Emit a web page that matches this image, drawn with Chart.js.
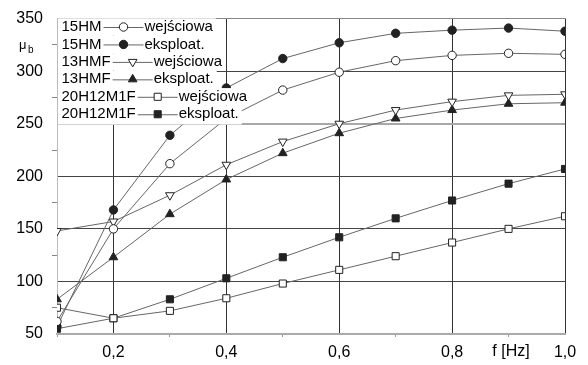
<!DOCTYPE html>
<html lang="pl">
<head>
<meta charset="UTF-8">
<title>μb = f(f)</title>
<script src="https://cdn.jsdelivr.net/npm/chart.js"></script>
<style>
    body { margin: 0; background: #fff; }
    #wrap { width: 588px; height: 365px; }
</style>
</head>
<body>
<div id="wrap"><canvas id="mub" width="588" height="365"></canvas></div>
<script>
// frequency f [Hz]
const freq = [0.1, 0.2, 0.3, 0.4, 0.5, 0.6, 0.7, 0.8, 0.9, 1.0];

// mu_b for each steel, initial state and after service
const hm15Wej  = [62, 150, 212, 255, 282, 299, 310, 315, 317, 316];
const hm15Eks  = [57, 168, 239, 284, 312, 327, 336, 339, 341, 338];
const hmf13Wej = [148, 157, 182, 211, 233, 250, 263, 271, 277, 278];
const hmf13Eks = [83, 123, 164, 197, 222, 241, 255, 263, 269, 270];
const h20Wej   = [75, 65, 72, 84, 98, 111, 124, 137, 150, 162];
const h20Eks   = [55, 65, 83, 103, 123, 142, 160, 177, 193, 207];

const steelNames = ['15HM', '15HM', '13HMF', '13HMF', '20H12M1F', '20H12M1F'];
const stateNames = ['wejściowa', 'eksploat.', 'wejściowa', 'eksploat.', 'wejściowa', 'eksploat.'];

const INK = '#222';
const LINE = '#666';
const FONT = '"Liberation Sans", Arial, sans-serif';

function series(vals, style, filled, rotation) {
    return {
        data: freq.map((f, i) => ({ x: f, y: vals[i] })),
        borderColor: LINE,
        borderWidth: 1,
        pointStyle: style,
        pointRotation: rotation || 0,
        pointRadius: style === 'circle' ? 4.2 : 5,
        pointBorderWidth: 1,
        pointBorderColor: INK,
        pointBackgroundColor: filled ? INK : '#fff',
        tension: 0
    };
}

const datasets = [
    series(hm15Wej, 'circle', false),
    series(hm15Eks, 'circle', true),
    series(hmf13Wej, 'triangle', false, 180),
    series(hmf13Eks, 'triangle', true),
    series(h20Wej, 'rect', false),
    series(h20Eks, 'rect', true)
];

// legend in the upper left corner, each row on a white strip over the grid and lines
const legendBox = {
    id: 'legendBox',
    afterDatasetsDraw(chart) {
        const ctx = chart.ctx;
        const left = chart.chartArea.left;
        const x0 = left + 4.5;
        const rowH = 17.45;
        const y0 = 27;
        ctx.save();
        ctx.font = '15px ' + FONT;
        ctx.textBaseline = 'middle';
        steelNames.forEach((name, i) => {
            const y = y0 + i * rowH;
            const nw = ctx.measureText(name).width;
            const lx = x0 + nw + 2;
            const tx = lx + 40;
            const sw = ctx.measureText(stateNames[i]).width;
            const extra = i === steelNames.length - 1 ? 1.5 : 0;
            ctx.fillStyle = '#fff';
            ctx.fillRect(left + 1, y - rowH / 2, tx + sw + 3 - left, rowH + extra);
            ctx.fillStyle = '#000';
            ctx.textAlign = 'left';
            ctx.fillText(name, x0, y);
            ctx.fillText(stateNames[i], tx + 1, y);
            ctx.strokeStyle = LINE;
            ctx.lineWidth = 1;
            ctx.beginPath();
            ctx.moveTo(lx, y + 0.5);
            ctx.lineTo(tx, y + 0.5);
            ctx.stroke();
            const ds = datasets[i];
            ctx.fillStyle = ds.pointBackgroundColor;
            ctx.strokeStyle = INK;
            Chart.helpers.drawPoint(ctx, {
                pointStyle: ds.pointStyle,
                radius: ds.pointRadius,
                rotation: ds.pointRotation,
                borderWidth: 1
            }, (lx + tx) / 2, y);
        });
        ctx.restore();
    },
    afterDraw(chart) {
        const ctx = chart.ctx;
        ctx.save();
        ctx.fillStyle = '#000';
        ctx.textBaseline = 'alphabetic';
        ctx.textAlign = 'left';
        ctx.font = '13px ' + FONT;
        ctx.fillText('μ', 19, 49);
        ctx.font = '10px ' + FONT;
        ctx.fillText('b', 28, 53);
        ctx.font = '16px ' + FONT;
        ctx.textAlign = 'center';
        ctx.textBaseline = 'middle';
        ctx.fillText('f [Hz]', 511, 352);
        ctx.restore();
    }
};

const tenths = v => Math.round(v * 10);

new Chart(document.getElementById('mub'), {
    type: 'line',
    data: { datasets },
    plugins: [legendBox],
    options: {
        responsive: false,
        animation: false,
        layout: { padding: { top: 15, right: 23, left: 0, bottom: 0 } },
        plugins: { legend: { display: false }, tooltip: { enabled: false } },
        scales: {
            x: {
                type: 'linear',
                min: 0.1,
                max: 1.0,
                afterFit: s => { s.height = 31; },
                ticks: {
                    stepSize: 0.1,
                    autoSkip: false,
                    maxRotation: 0,
                    padding: 6,
                    color: '#000',
                    font: { family: FONT, size: 16 },
                    callback: v => {
                        const t = tenths(v);
                        return t % 2 === 0 ? (t / 10).toFixed(1).replace('.', ',') : '';
                    }
                },
                grid: {
                    color: c => {
                        const t = tenths(c.tick.value);
                        if (t === 1) return '#bbb';
                        return t % 2 === 0 ? '#333' : 'rgba(0,0,0,0)';
                    },
                    tickColor: c => tenths(c.tick.value) % 2 === 0 ? 'rgba(0,0,0,0)' : '#999',
                    tickLength: 3
                },
                border: { color: '#aaa', width: 2 }
            },
            y: {
                min: 50,
                max: 350,
                afterFit: s => { s.width = 57; },
                ticks: {
                    stepSize: 25,
                    autoSkip: false,
                    padding: 9,
                    color: '#000',
                    font: { family: FONT, size: 16 },
                    callback: v => v % 50 === 0 ? String(v) : ''
                },
                grid: {
                    color: c => {
                        const v = c.tick.value;
                        if (v % 50 !== 0) return 'rgba(0,0,0,0)';
                        if (v === 250) return '#a8a8a8';
                        if (v === 350) return '#888';
                        if (v === 50) return '#aaa';
                        return '#444';
                    },
                    lineWidth: c => (c.tick.value === 250 || c.tick.value === 50) ? 2 : 1,
                    tickColor: c => c.tick.value % 50 === 0 ? 'rgba(0,0,0,0)' : '#888',
                    tickLength: 5
                },
                border: { color: '#bbb', width: 1 }
            }
        }
    }
});
</script>
</body>
</html>
